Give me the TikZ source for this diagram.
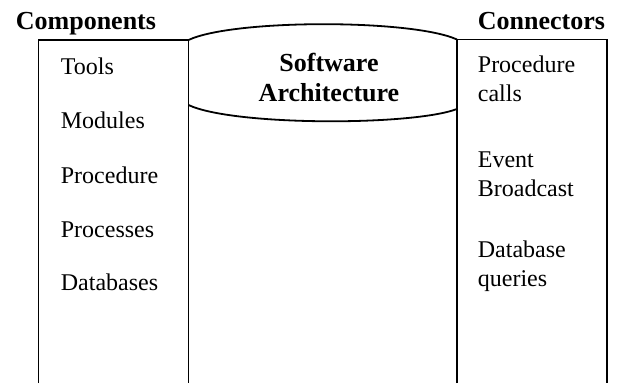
\documentclass[tikz,border=0pt]{standalone}
\usepackage{fontspec}
\setmainfont{Liberation Serif}
\usetikzlibrary{positioning}

\begin{document}
\begin{tikzpicture}[x=1pt,y=-1pt,line width=1.8pt]
  \tikzstyle{head}=[font=\fontsize{26}{30}\selectfont\bfseries,inner sep=0pt]
  \tikzstyle{item}=[font=\fontsize{24}{29}\selectfont,inner sep=0pt,anchor=base west,align=left]
  \useasboundingbox (0,0) rectangle (618,383);

  % corners of the two columns and the drum between them
  \coordinate (lb) at (38.5,383);
  \coordinate (lt) at (188.5,40);
  \coordinate (lm) at (188.5,105);
  \coordinate (lbr) at (188.5,383);
  \coordinate (rb) at (457,383);
  \coordinate (rt) at (457,39.5);
  \coordinate (rm) at (457,109);
  \coordinate (rbr) at (607,383);

  \draw (lb) |- (lt) -- (lbr);
  \draw (rb) |- (rbr |- rt) -- (rbr);
  \draw (lt) .. controls (233,19) and (412,19) .. (rt);
  \draw (lm) .. controls (233,126) and (412,126) .. (rm);

  \node[head,anchor=base west] (comp) at (15,29) {Components};
  \node[head,anchor=base west] (conn) at (477,29) {Connectors};
  \node[head,anchor=base,align=center] (arch) at (329,101) {Software\\Architecture};

  \node[item] (tools) at (60,74) {Tools};
  \node[item] (mods)  at (60,128) {Modules};
  \node[item] (proc)  at (60,183) {Procedure};
  \node[item] (procs) at (60,237) {Processes};
  \node[item] (dbs)   at (60,290) {Databases};

  \node[item] (calls) at (477,101) {Procedure\\calls};
  \node[item] (event) at (477,196) {Event\\Broadcast};
  \node[item] (query) at (477,286) {Database\\queries};
\end{tikzpicture}
\end{document}
